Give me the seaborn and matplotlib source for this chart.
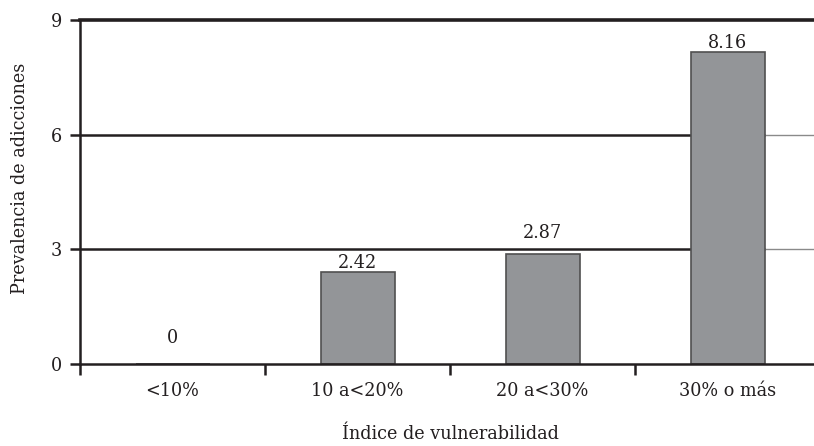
import numpy as np
import pandas as pd
import seaborn as sns
from matplotlib import pyplot as plt

# Datos: prevalencia de adicciones por índice de vulnerabilidad
categorias = ['<10%', '10 a<20%', '20 a<30%', '30% o más']
prevalencia = [0, 2.42, 2.87, 8.16]
etiquetas = ['0', '2.42', '2.87', '8.16']
y_ticks = [0, 3, 6, 9]

df = pd.DataFrame({'indice': categorias, 'prevalencia': prevalencia})

sns.set_style('white')
plt.rcParams['font.family'] = ['DejaVu Serif']
fs = 12.7
ink = '#231f20'
bar_w = 0.4

fig = plt.figure(figsize=(8.14, 4.46), dpi=100)
ax = fig.add_axes([80 / 814, 1 - 364 / 446, 740 / 814, 344 / 446])

# grid lines behind the bars (thinner/grey past the last bar, like the original)
last_edge = len(categorias) - 1 + bar_w / 2
for y in y_ticks[1:3]:
    ax.hlines(y, -0.5, last_edge, color=ink, lw=1.8, zorder=0)
    ax.hlines(y, last_edge, len(categorias) - 0.5, color='#8a8a8a', lw=1.0, zorder=0)

sns.barplot(data=df, x='indice', y='prevalencia', ax=ax, color='#939598',
            saturation=1, width=bar_w, edgecolor='#505050', linewidth=1.2, zorder=2)

# value labels (padding in points, varies per bar in the original)
pads = [12, 0, 9, 0]
for patch, txt, pad in zip(ax.patches, etiquetas, pads):
    ax.annotate(txt, (patch.get_x() + patch.get_width() / 2, patch.get_height()),
                xytext=(0, pad), textcoords='offset points',
                ha='center', va='bottom', fontsize=fs, color=ink)

ax.set_xlim(-0.5, 3.5)
ax.set_ylim(0, 9)
ax.set_yticks(y_ticks)
ax.set_yticklabels([str(t) for t in y_ticks], fontsize=fs, color=ink)
ax.set_xticks(range(len(categorias)))
ax.set_xticklabels(categorias, fontsize=fs, color=ink)
ax.set_xticks([-0.5, 0.5, 1.5, 2.5], minor=True)
ax.tick_params(axis='x', which='major', length=0, pad=13)
ax.tick_params(axis='x', which='minor', length=8, width=1.8, color=ink, direction='out', bottom=True)
ax.tick_params(axis='y', length=7, width=1.8, color=ink, direction='out', left=True, pad=6)

ax.spines['right'].set_visible(False)
ax.spines['top'].set_linewidth(2.6)
ax.spines['left'].set_linewidth(1.8)
ax.spines['bottom'].set_linewidth(1.8)
for s in ['top', 'left', 'bottom']:
    ax.spines[s].set_color(ink)

ax.set_xlabel('Índice de vulnerabilidad', fontsize=fs, color=ink, labelpad=18)
ax.set_ylabel('Prevalencia de adicciones', fontsize=fs, color=ink)
ax.yaxis.set_label_coords(-0.069, 0.54)

plt.savefig('out.png', dpi=100)
